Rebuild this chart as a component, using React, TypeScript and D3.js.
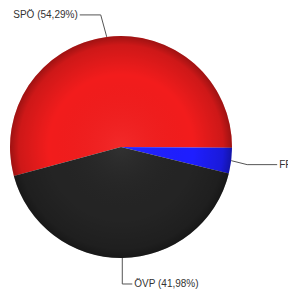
import React, { useEffect, useRef } from "react";
import * as d3 from "d3";

// party results
const parties = ["SPÖ", "FPÖ", "ÖVP"];
const shares = [54.29, 3.73, 41.98];
const labels = ["SPÖ (54,29%)", "FPÖ (3,73%)", "ÖVP (41,98%)"];
const colors = ["#f21c1c", "#1e1eff", "#242424"];

const W = 288;
const H = 291;
const cx = 121;
const cy = 147;
const r = 111;

// leader line shapes: [elbow dx, elbow dy, horizontal length, side]
const leaders: [number, number, number, number][] = [
  [-6, -22, -21, -1],
  [16, 4, 30, 1],
  [0, 26, 10, 1],
];

export default function App() {
  const ref = useRef<SVGSVGElement>(null);

  useEffect(() => {
    const svg = d3.select(ref.current);
    svg.selectAll("*").remove();

    const defs = svg.append("defs");
    const grad = defs.append("radialGradient")
      .attr("id", "shade")
      .attr("cx", "50%").attr("cy", "50%").attr("r", "50%");
    grad.append("stop").attr("offset", "0%").attr("stop-color", "#fff").attr("stop-opacity", 0.06);
    grad.append("stop").attr("offset", "65%").attr("stop-color", "#000").attr("stop-opacity", 0);
    grad.append("stop").attr("offset", "92%").attr("stop-color", "#000").attr("stop-opacity", 0.15);
    grad.append("stop").attr("offset", "100%").attr("stop-color", "#000").attr("stop-opacity", 0.35);

    const start = (-105.1 * Math.PI) / 180;
    const pie = d3.pie<number>().sort(null).startAngle(start).endAngle(start + 2 * Math.PI);
    const arcs = pie(shares);
    const arc = d3.arc<d3.PieArcDatum<number>>().innerRadius(0).outerRadius(r);

    const g = svg.append("g").attr("transform", `translate(${cx},${cy})`);
    g.selectAll("path.slice")
      .data(arcs)
      .enter()
      .append("path")
      .attr("class", "slice")
      .attr("d", arc)
      .attr("fill", (d, i) => colors[i]);
    g.append("circle").attr("r", r).attr("fill", "url(#shade)");

    // leader lines and labels
    arcs.forEach((d, i) => {
      const a = (d.startAngle + d.endAngle) / 2;
      const x0 = cx + r * Math.sin(a);
      const y0 = cy - r * Math.cos(a);
      const [ex, ey, len, side] = leaders[i];
      const x1 = x0 + ex;
      const y1 = y0 + ey;
      const x2 = x1 + len;
      svg.append("path")
        .attr("d", `M${x0},${y0}L${x1},${y1}L${x2},${y1}`)
        .attr("fill", "none")
        .attr("stroke", "#555")
        .attr("stroke-width", 1);
      svg.append("text")
        .attr("x", x2 + side * 2)
        .attr("y", y1)
        .attr("dy", "0.35em")
        .attr("text-anchor", side < 0 ? "end" : "start")
        .attr("font-family", "Liberation Sans, Arial, sans-serif")
        .attr("font-size", 10)
        .attr("fill", "#333")
        .text(labels[i]);
    });
  }, []);

  return (
    <svg
      ref={ref}
      width={W}
      height={H}
      style={{ position: "fixed", left: 0, top: 0, background: "#fff" }}
    />
  );
}
